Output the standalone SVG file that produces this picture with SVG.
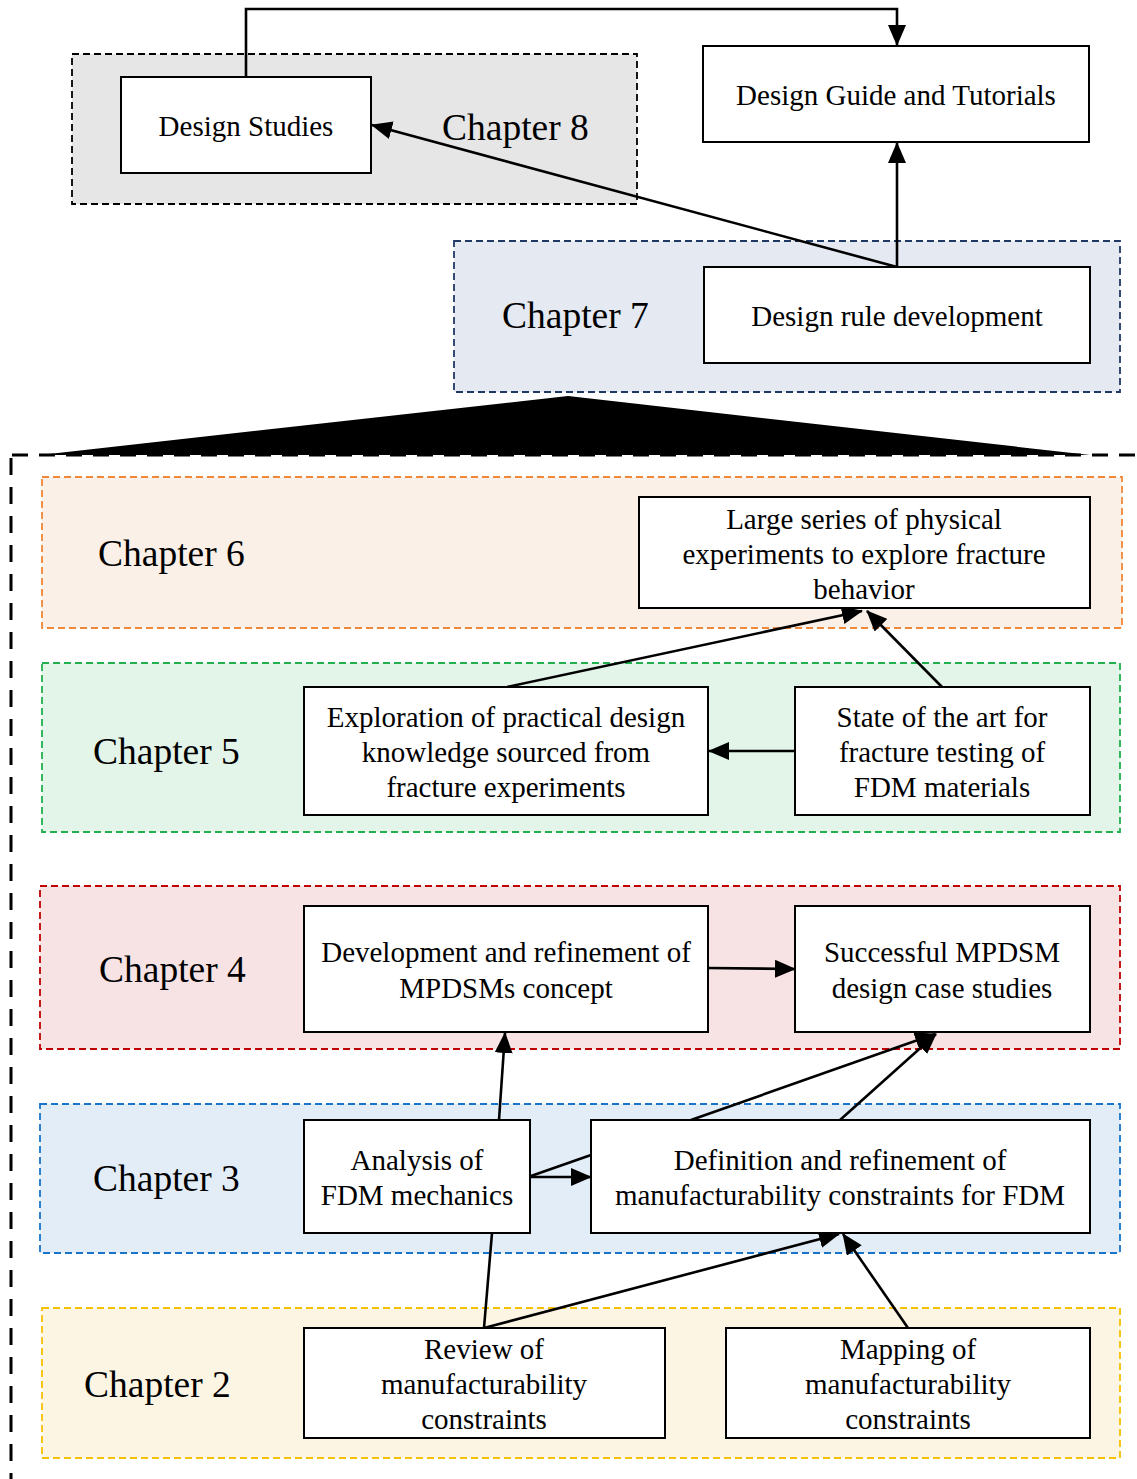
<svg xmlns="http://www.w3.org/2000/svg" width="1137" height="1479" viewBox="0 0 1137 1479">
<defs>
<marker id="ah" markerUnits="userSpaceOnUse" markerWidth="21" markerHeight="18" refX="20" refY="9" orient="auto">
<path d="M0,0 L21,9 L0,18 z" fill="#000"/>
</marker>
<style>
.frame{stroke-width:1.8;stroke-dasharray:7 4}
.box{fill:#fff;stroke:#000;stroke-width:2}
.t{font-family:"Liberation Serif","Times New Roman",serif;font-size:29px;fill:#000;text-anchor:middle}
.ch{font-family:"Liberation Serif","Times New Roman",serif;font-size:37.5px;fill:#000}
.c{fill:none;stroke:#000;stroke-width:2.6}
.ca{fill:none;stroke:#000;stroke-width:2.6;marker-end:url(#ah)}
</style>
</defs>
<rect width="1137" height="1479" fill="#fff"/>

<g id="frames">
<rect id="ch8" class="frame" x="72" y="54" width="565" height="150" fill="#e6e6e6" stroke="#000"/>
<rect id="ch7" class="frame" x="454" y="241" width="666" height="151" fill="#e5e9f1" stroke="#1f3864"/>
<rect id="ch6" class="frame" x="42" y="477" width="1080" height="151" fill="#fbf0e7" stroke="#f0883a"/>
<rect id="ch5" class="frame" x="42" y="663" width="1078" height="169" fill="#e3f4e9" stroke="#22b04e"/>
<rect id="ch4" class="frame" x="40" y="886" width="1080" height="163" fill="#f7e3e3" stroke="#c00000"/>
<rect id="ch3" class="frame" x="40" y="1104" width="1080" height="149" fill="#e3edf7" stroke="#1874c8"/>
<rect id="ch2" class="frame" x="42" y="1308" width="1078" height="150" fill="#fdf5e3" stroke="#f5c000"/>
</g>

<g id="chapter-labels">
<text class="ch" x="442" y="140">Chapter 8</text>
<text class="ch" x="502" y="328">Chapter 7</text>
<text class="ch" x="98" y="566">Chapter 6</text>
<text class="ch" x="93" y="764">Chapter 5</text>
<text class="ch" x="99" y="982">Chapter 4</text>
<text class="ch" x="93" y="1191">Chapter 3</text>
<text class="ch" x="84" y="1397">Chapter 2</text>
</g>

<g id="expansion">
<polygon points="568,396 1090,455 40,455" fill="#000"/>
<path d="M12,455 H1137" stroke="#000" stroke-width="3" stroke-dasharray="16 11" fill="none"/>
<path d="M11,458 V1479" stroke="#000" stroke-width="3" stroke-dasharray="17 12" fill="none"/>
</g>

<g id="connectors">
<path class="ca" d="M246,77 V9 H897 V45"/>
<path class="ca" d="M897,267 V143"/>
<path class="ca" d="M897,267 L372,125"/>
<path class="ca" d="M507,687 L862,611"/>
<path class="ca" d="M942,687 L867,611"/>
<path class="ca" d="M795,751 L709,751"/>
<path class="ca" d="M708,968 L795,969"/>
<path class="ca" d="M499,1120 L505,1033"/>
<path class="ca" d="M691,1120 L935,1034"/>
<path class="ca" d="M840,1120 L936,1034"/>
<path class="ca" d="M531,1177 L591,1177"/>
<path class="c" d="M531,1176 L591,1155"/>
<path class="c" d="M484,1328 L492,1233"/>
<path class="ca" d="M484,1328 L839,1234"/>
<path class="ca" d="M908,1328 L843,1234"/>
</g>

<g id="n-design-studies">
<rect class="box" x="121" y="77" width="250" height="96"/>
<text class="t" x="246" y="136">Design Studies</text>
</g>
<g id="n-design-guide">
<rect class="box" x="703" y="46" width="386" height="96"/>
<text class="t" x="896" y="105">Design Guide and Tutorials</text>
</g>
<g id="n-design-rule">
<rect class="box" x="704" y="267" width="386" height="96"/>
<text class="t" x="897" y="326">Design rule development</text>
</g>
<g id="n-large-series">
<rect class="box" x="639" y="497" width="451" height="111"/>
<text class="t" x="864" y="529">Large series of physical</text>
<text class="t" x="864" y="564">experiments to explore fracture</text>
<text class="t" x="864" y="599">behavior</text>
</g>
<g id="n-exploration">
<rect class="box" x="304" y="687" width="404" height="128"/>
<text class="t" x="506" y="727">Exploration of practical design</text>
<text class="t" x="506" y="762">knowledge sourced from</text>
<text class="t" x="506" y="797">fracture experiments</text>
</g>
<g id="n-state-of-art">
<rect class="box" x="795" y="687" width="295" height="128"/>
<text class="t" x="942" y="727">State of the art for</text>
<text class="t" x="942" y="762">fracture testing of</text>
<text class="t" x="942" y="797">FDM materials</text>
</g>
<g id="n-development">
<rect class="box" x="304" y="906" width="404" height="126"/>
<text class="t" x="506" y="962">Development and refinement of</text>
<text class="t" x="506" y="998">MPDSMs concept</text>
</g>
<g id="n-successful">
<rect class="box" x="795" y="906" width="295" height="126"/>
<text class="t" x="942" y="962">Successful MPDSM</text>
<text class="t" x="942" y="998">design case studies</text>
</g>
<g id="n-analysis">
<rect class="box" x="304" y="1120" width="226" height="113"/>
<text class="t" x="417" y="1170">Analysis of</text>
<text class="t" x="417" y="1205">FDM mechanics</text>
</g>
<g id="n-definition">
<rect class="box" x="591" y="1120" width="499" height="113"/>
<text class="t" x="840" y="1170">Definition and refinement of</text>
<text class="t" x="840" y="1205">manufacturability constraints for FDM</text>
</g>
<g id="n-review">
<rect class="box" x="304" y="1328" width="361" height="110"/>
<text class="t" x="484" y="1359">Review of</text>
<text class="t" x="484" y="1394">manufacturability</text>
<text class="t" x="484" y="1429">constraints</text>
</g>
<g id="n-mapping">
<rect class="box" x="726" y="1328" width="364" height="110"/>
<text class="t" x="908" y="1359">Mapping of</text>
<text class="t" x="908" y="1394">manufacturability</text>
<text class="t" x="908" y="1429">constraints</text>
</g>
</svg>
